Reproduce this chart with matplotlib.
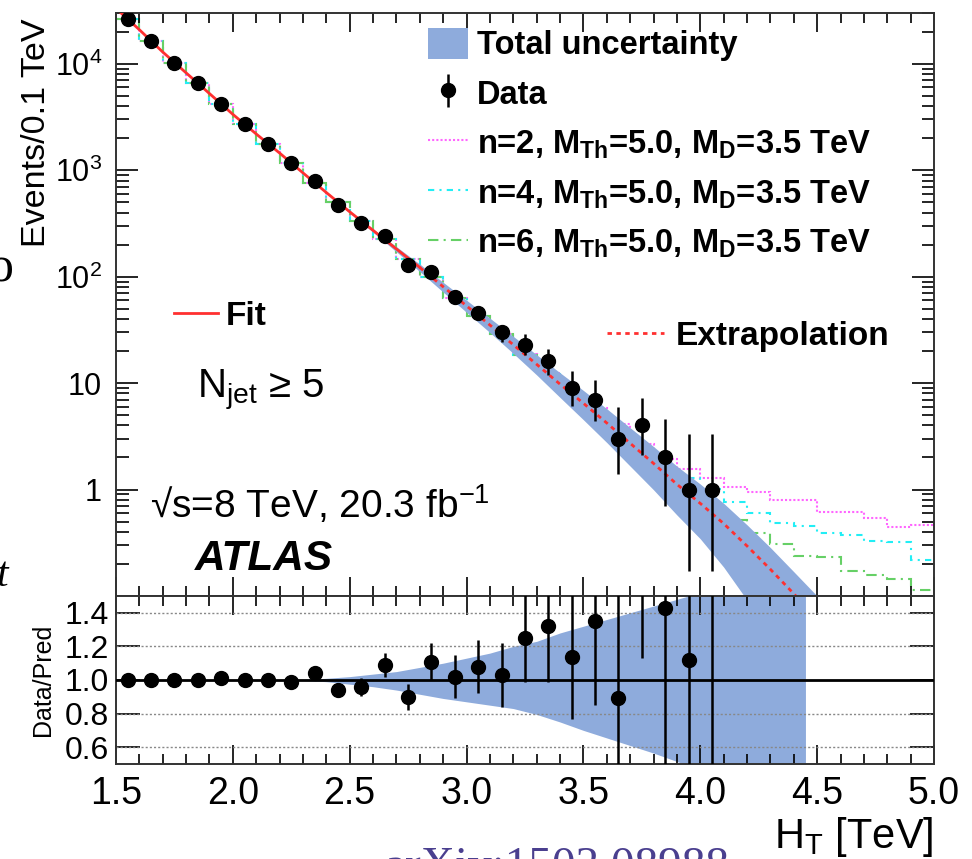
import numpy as np
import matplotlib
matplotlib.use("Agg")
import matplotlib.pyplot as plt
from matplotlib.patches import Patch
from matplotlib.lines import Line2D
from matplotlib.ticker import LogLocator, NullFormatter, FixedLocator, MultipleLocator

plt.rcParams['font.family'] = ['Liberation Sans', 'DejaVu Sans']
plt.rcParams['mathtext.fontset'] = 'custom'
plt.rcParams['mathtext.rm'] = 'Liberation Sans'
plt.rcParams['mathtext.it'] = 'Liberation Sans:italic'
plt.rcParams['mathtext.bf'] = 'Liberation Sans:bold'

# ---------------- data ----------------
bin_edges = [1.5, 1.6, 1.7, 1.8, 1.9, 2.0, 2.1, 2.2, 2.3, 2.4, 2.5, 2.6, 2.7, 2.8, 2.9, 3.0,
             3.1, 3.2, 3.3, 3.4, 3.5, 3.6, 3.7, 3.8, 3.9, 4.0, 4.1, 4.2, 4.3, 4.4, 4.5,
             4.6, 4.7, 4.8, 4.9, 5.0]
data_ht = [1.55, 1.65, 1.75, 1.85, 1.95, 2.05, 2.15, 2.25, 2.35, 2.45, 2.55, 2.65, 2.75,
           2.85, 2.95, 3.05, 3.15, 3.25, 3.35, 3.45, 3.55, 3.65, 3.75, 3.85, 3.95, 4.05]
data_n = [26300, 16400, 10200, 6650, 4230, 2690, 1780, 1160, 790, 471, 320, 242, 129,
          111, 65, 46, 30, 23, 16, 9, 7, 3, 4, 2, 1, 1]
data_err_lo = [162, 128, 101, 82, 65, 52, 42, 34, 28, 22, 18, 16, 11, 11, 8, 6.8, 5.5,
               4.8, 4.0, 2.9, 2.6, 1.6, 1.9, 1.3, 0.83, 0.83]
data_err_hi = [162, 128, 101, 82, 65, 52, 42, 34, 28, 22, 18, 16, 11, 11, 8, 6.8, 5.5,
               5.8, 5.1, 4.1, 3.8, 2.9, 3.2, 2.6, 2.3, 2.3]

ratio = [1.00, 1.00, 1.00, 1.00, 1.01, 1.00, 1.00, 0.99, 1.04, 0.94, 0.96, 1.09, 0.90,
         1.11, 1.02, 1.08, 1.03, 1.25, 1.32, 1.135, 1.35, 0.895, 2.15, 1.43, 1.12, 1.61]
ratio_err_lo = [0.006, 0.008, 0.01, 0.012, 0.015, 0.019, 0.024, 0.029, 0.037, 0.044,
                0.054, 0.072, 0.077, 0.11, 0.126, 0.16, 0.19, 0.26, 0.33, 0.37, 0.50,
                0.48, 1.02, 0.93, 0.93, 1.34]
ratio_err_hi = [0.006, 0.008, 0.01, 0.012, 0.015, 0.019, 0.024, 0.029, 0.037, 0.044,
                0.054, 0.072, 0.077, 0.11, 0.126, 0.16, 0.19, 0.32, 0.42, 0.52, 0.73,
                0.87, 1.72, 1.86, 2.6, 3.7]

fit_x = [1.5, 1.6, 1.7, 1.8, 1.9, 2.0, 2.1, 2.2, 2.3, 2.4, 2.5, 2.6, 2.7, 2.8, 2.9, 3.0,
         3.1, 3.2, 3.3, 3.4, 3.5, 3.6, 3.7, 3.8, 3.9, 4.0, 4.1, 4.2, 4.3, 4.4, 4.5]
fit_vals = [33100, 20900, 12900, 8220, 5250, 3350, 2190, 1450, 944, 617, 407, 272, 182,
            122, 80.4, 53.1, 35.1, 22.9, 15.0, 9.77, 6.46, 4.22, 2.72, 1.76, 1.12, 0.741,
            0.479, 0.295, 0.178, 0.105, 0.0617]
fit_range_end = 2.8

band_x = [2.2, 2.3, 2.4, 2.5, 2.6, 2.7, 2.8, 2.9, 3.0, 3.1, 3.2, 3.3, 3.4, 3.5, 3.6, 3.7,
          3.8, 3.9, 4.0, 4.1, 4.2, 4.3, 4.4, 4.5]
band_hi = [1.0, 1.003, 1.01, 1.02, 1.035, 1.05, 1.075, 1.10, 1.13, 1.16, 1.20, 1.23, 1.28,
           1.32, 1.36, 1.40, 1.44, 1.48, 1.52, 1.55, 1.58, 1.60, 1.61, 1.62]
band_lo = [1.0, 0.997, 0.99, 0.975, 0.96, 0.94, 0.915, 0.89, 0.87, 0.85, 0.83, 0.795, 0.75,
           0.70, 0.655, 0.61, 0.565, 0.515, 0.465, 0.39, 0.31, 0.23, 0.17, 0.13]
ratio_band_end = 4.45

sig_n2 = [26300, 16400, 10200, 6610, 4170, 2690, 1780, 1175, 759, 501, 331, 224, 145, 100,
          63.5, 43, 29.2, 18.6, 12.4, 8.3, 5.8, 4.1, 2.7, 1.95, 1.57, 1.27, 1.06, 0.94,
          0.79, 0.79, 0.62, 0.61, 0.54, 0.44, 0.46]
sig_n4 = [26300, 16400, 10200, 6610, 4170, 2690, 1780, 1175, 759, 501, 331, 224, 145, 100,
          63.3, 42.9, 29.0, 18.4, 12.2, 8.1, 5.5, 3.6, 2.45, 1.6, 1.29, 1.02, 0.77, 0.60,
          0.48, 0.45, 0.39, 0.37, 0.33, 0.32, 0.22]
sig_n6 = [26300, 16400, 10200, 6610, 4170, 2690, 1780, 1175, 759, 501, 331, 224, 145, 100,
          63.1, 42.8, 28.9, 18.3, 12.1, 8.0, 5.3, 3.45, 2.25, 1.45, 0.95, 0.70, 0.52, 0.39,
          0.31, 0.24, 0.23, 0.17, 0.158, 0.145, 0.114]

sig_labels = [r"n=2, M$_{\mathbf{Th}}$=5.0, M$_{\mathbf{D}}$=3.5 TeV",
              r"n=4, M$_{\mathbf{Th}}$=5.0, M$_{\mathbf{D}}$=3.5 TeV",
              r"n=6, M$_{\mathbf{Th}}$=5.0, M$_{\mathbf{D}}$=3.5 TeV"]

# ---------------- style ----------------
band_color = '#8eabdc'
red = '#ff3030'
c_n2, c_n4, c_n6 = '#ff66ff', '#22eef5', '#66d066'
ls_n2 = (0, (1, 1))
ls_n4 = (0, (3, 2.5, 1, 2.5))
ls_n6 = (0, (5, 2.5, 1, 2.5))
sig_lw = 1.5

fig = plt.figure(figsize=(9.72, 8.59), dpi=100)
ax = fig.add_axes([0.1193, 0.3062, 0.8416, 0.6787])
axr = fig.add_axes([0.1193, 0.1106, 0.8416, 0.1956], sharex=ax)

fit_x_a = np.array(fit_x)
fit_v_a = np.array(fit_vals)
bx = np.array(band_x)
fit_at_band = 10 ** np.interp(bx, fit_x_a, np.log10(fit_v_a))

# main panel
ax.stairs(sig_n2, bin_edges, baseline=None, color=c_n2, linestyle=ls_n2, lw=sig_lw, zorder=1.5)
ax.stairs(sig_n4, bin_edges, baseline=None, color=c_n4, linestyle=ls_n4, lw=sig_lw, zorder=1.5)
ax.stairs(sig_n6, bin_edges, baseline=None, color=c_n6, linestyle=ls_n6, lw=sig_lw, zorder=1.5)
ax.fill_between(bx, fit_at_band * np.array(band_lo), fit_at_band * np.array(band_hi),
                color=band_color, lw=0, zorder=2)
m_solid = fit_x_a <= fit_range_end + 1e-9
m_dot = fit_x_a >= fit_range_end - 1e-9
ax.plot(fit_x_a[m_solid], fit_v_a[m_solid], color=red, lw=2.0, zorder=3)
ax.plot(fit_x_a[m_dot], fit_v_a[m_dot], color=red, lw=2.0, linestyle=(0, (1.6, 1.6)), zorder=3)
eb = ax.errorbar(data_ht, data_n, yerr=[data_err_lo, data_err_hi], fmt='o', color='k',
                 ms=10, elinewidth=1.8, capsize=0, zorder=5)

ax.set_yscale('log')
ax.set_xlim(1.5, 5.0)
ax.set_ylim(0.1, 3e4)
ax.yaxis.set_major_locator(FixedLocator([1, 10, 100, 1e3, 1e4]))
ax.set_yticklabels(['1', '10', '10$^2$', '10$^3$', '10$^4$'])
ax.yaxis.set_minor_locator(LogLocator(base=10, subs=np.arange(2, 10), numticks=20))
ax.yaxis.set_minor_formatter(NullFormatter())
ax.xaxis.set_major_locator(MultipleLocator(0.5))
ax.xaxis.set_minor_locator(MultipleLocator(0.1))
ax.tick_params(axis='x', which='both', direction='in', top=True, bottom=True, labelbottom=False)
ax.tick_params(axis='x', which='major', length=14, width=1.2)
ax.tick_params(axis='x', which='minor', length=7, width=1.2)
ax.tick_params(axis='y', which='both', direction='in', left=True, right=True,
               labelsize=22, pad=10)
ax.tick_params(axis='y', which='major', length=16, width=1.2)
ax.tick_params(axis='y', which='minor', length=9, width=1.2)
ax.set_ylabel('Events/0.1 TeV', fontsize=24.5, loc='top')
ax.yaxis.set_label_coords(-0.078, 0.99)
for s in ax.spines.values():
    s.set_linewidth(1.4)
    s.set_color('#333333')

# legends
leg1 = ax.legend([Patch(facecolor=band_color, edgecolor='none'), eb,
                  Line2D([], [], color=c_n2, linestyle=ls_n2, lw=sig_lw),
                  Line2D([], [], color=c_n4, linestyle=ls_n4, lw=sig_lw),
                  Line2D([], [], color=c_n6, linestyle=ls_n6, lw=sig_lw)],
                 ['Total uncertainty', 'Data'] + sig_labels,
                 loc='upper left', bbox_to_anchor=(0.363, 1.0), frameon=False,
                 prop={'weight': 'bold', 'size': 23.5}, handlelength=1.25,
                 handletextpad=0.25, labelspacing=0.48, borderaxespad=0.05,
                 handleheight=1.1)
ax.add_artist(leg1)
leg2 = ax.legend([Line2D([], [], color=red, lw=2.0)], ['Fit'], loc='center left',
                 bbox_to_anchor=(0.055, 0.480), frameon=False,
                 prop={'weight': 'bold', 'size': 24}, handlelength=1.3,
                 handletextpad=0.25, borderaxespad=0)
ax.add_artist(leg2)
ax.legend([Line2D([], [], color=red, lw=2.0, linestyle=(0, (1.6, 1.6)))], ['Extrapolation'],
          loc='center left', bbox_to_anchor=(0.584, 0.445), frameon=False,
          prop={'weight': 'bold', 'size': 24}, handlelength=1.7,
          handletextpad=0.35, borderaxespad=0)

ax.text(0.099, 0.341, r'N$_{\mathrm{jet}}$ ≥ 5', transform=ax.transAxes, fontsize=29,
        va='baseline', ha='left')
ax.text(0.0416, 0.134, r'√s=8 TeV, 20.3 fb$^{-1}$', transform=ax.transAxes, fontsize=28,
        va='baseline', ha='left')
ax.text(0.0966, 0.0446, 'ATLAS', transform=ax.transAxes, fontsize=30.5, fontweight='bold',
        fontstyle='italic', va='baseline', ha='left')

# ratio panel
rb = bx <= ratio_band_end + 1e-9
rx = np.append(bx[rb], ratio_band_end)
rhi = np.append(np.array(band_hi)[rb], np.interp(ratio_band_end, bx, band_hi))
rlo = np.append(np.array(band_lo)[rb], np.interp(ratio_band_end, bx, band_lo))
axr.fill_between(rx, rlo, rhi, color=band_color, lw=0, zorder=1)
for g in [0.6, 0.8, 1.2, 1.4]:
    axr.axhline(g, color='#888888', lw=1.0, linestyle=(0, (1.5, 1.5)), zorder=2)
axr.axhline(1.0, color='k', lw=2.0, zorder=3)
axr.errorbar(data_ht, ratio, yerr=[ratio_err_lo, ratio_err_hi], fmt='o', color='k',
             ms=10, elinewidth=1.8, capsize=0, zorder=5)
axr.set_ylim(0.5, 1.5)
axr.set_xlim(1.5, 5.0)
axr.set_yticks([0.6, 0.8, 1.0, 1.2, 1.4])
axr.set_yticklabels(['0.6', '0.8', '1.0', '1.2', '1.4'])
axr.tick_params(axis='x', which='both', direction='in', top=True, bottom=True,
                labelsize=27, pad=9)
axr.tick_params(axis='x', which='major', length=14, width=1.2)
axr.tick_params(axis='x', which='minor', length=7, width=1.2)
axr.tick_params(axis='y', which='major', direction='in', left=True, right=True,
                labelsize=23, pad=5, length=17, width=1.2)
axr.set_xticks([1.5, 2.0, 2.5, 3.0, 3.5, 4.0, 4.5, 5.0])
axr.set_xticklabels(['1.5', '2.0', '2.5', '3.0', '3.5', '4.0', '4.5', '5.0'])
axr.set_ylabel('Data/Pred', fontsize=18)
axr.yaxis.set_label_coords(-0.075, 0.5)
axr.set_xlabel(r'H$_{\mathrm{T}}$ [TeV]', fontsize=30, loc='right', labelpad=2)
for s in axr.spines.values():
    s.set_linewidth(1.4)
    s.set_color('#333333')

# screenshot remnants around the figure
fig.text(-0.012, 0.672, 'o', fontsize=36, family='Liberation Serif', color='k')
fig.text(-0.004, 0.318, 't', fontsize=30, family='Liberation Serif', style='italic', color='k')
fig.text(0.395, 0.0151, 'arXiv:1503.08988', fontsize=34, family='Liberation Serif',
         color='#4a3f8f', va='top')

fig.savefig('out.png', dpi=100)
